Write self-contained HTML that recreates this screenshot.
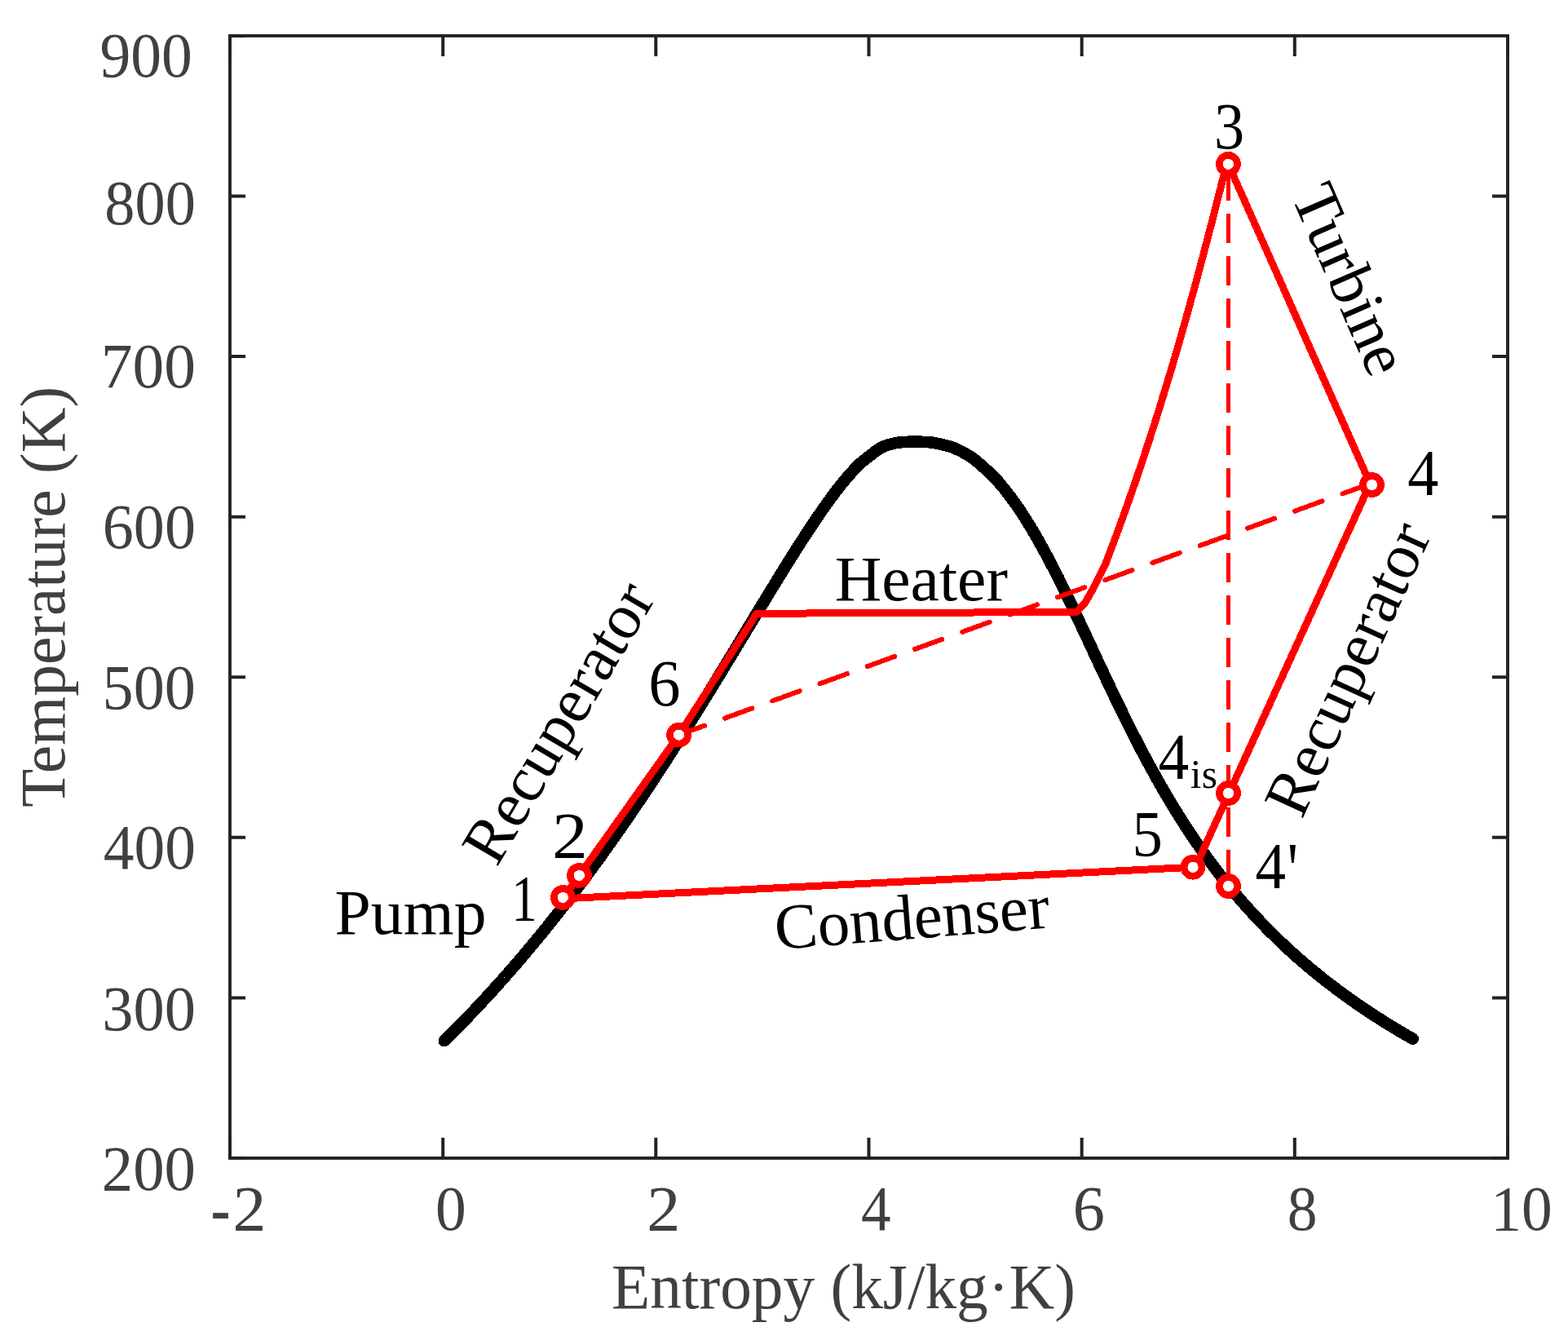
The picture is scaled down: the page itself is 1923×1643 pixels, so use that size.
<!DOCTYPE html>
<html><head><meta charset="utf-8"><title>T-s diagram</title>
<style>html,body{margin:0;padding:0;background:#fff;}svg{display:block;}</style></head>
<body>
<svg width="1923" height="1643" viewBox="0 0 1923 1643">
<rect width="1923" height="1643" fill="#fff"/>
<g shape-rendering="crispEdges">
<polyline points="544.8,1276.2 545.5,1275.5 546.5,1274.5 547.7,1273.3 548.8,1272.2 549.8,1271.3 550.8,1270.3 551.8,1269.3 552.8,1268.3 553.7,1267.3 554.7,1266.4 555.7,1265.4 556.7,1264.4 557.7,1263.4 558.7,1262.4 559.6,1261.4 560.6,1260.5 561.6,1259.5 562.5,1258.5 563.5,1257.5 564.5,1256.5 565.4,1255.5 566.4,1254.6 567.4,1253.6 568.3,1252.6 569.3,1251.6 570.2,1250.6 571.2,1249.6 572.1,1248.7 573.1,1247.7 574.0,1246.7 575.0,1245.7 575.9,1244.7 576.9,1243.7 577.8,1242.8 578.7,1241.8 579.7,1240.8 580.6,1239.8 581.6,1238.8 582.5,1237.8 583.4,1236.9 584.3,1235.9 585.3,1234.9 586.2,1233.9 587.1,1232.9 588.0,1231.9 589.0,1231.0 589.9,1230.0 590.8,1229.0 591.7,1228.0 592.6,1227.0 593.5,1226.1 594.4,1225.1 595.4,1224.1 596.3,1223.1 597.2,1222.1 598.1,1221.1 599.0,1220.2 599.9,1219.2 600.8,1218.2 601.7,1217.2 602.6,1216.2 603.5,1215.2 604.4,1214.3 605.3,1213.3 606.2,1212.3 607.0,1211.3 607.9,1210.3 608.8,1209.3 609.7,1208.4 610.6,1207.4 611.5,1206.4 612.3,1205.4 613.2,1204.4 614.1,1203.4 615.0,1202.5 615.9,1201.5 616.7,1200.5 617.6,1199.5 618.5,1198.5 619.3,1197.5 620.2,1196.6 621.1,1195.6 621.9,1194.6 622.8,1193.6 623.7,1192.6 624.5,1191.6 625.4,1190.7 626.3,1189.7 627.1,1188.7 628.0,1187.7 628.8,1186.7 629.7,1185.8 630.5,1184.8 631.4,1183.8 632.2,1182.8 633.1,1181.8 633.9,1180.8 634.8,1179.9 635.6,1178.9 636.5,1177.9 637.3,1176.9 638.1,1175.9 639.0,1174.9 639.8,1174.0 640.7,1173.0 641.5,1172.0 642.3,1171.0 643.2,1170.0 644.0,1169.0 644.8,1168.1 645.6,1167.1 646.5,1166.1 647.3,1165.1 648.1,1164.1 649.0,1163.1 649.8,1162.2 650.6,1161.2 651.4,1160.2 652.2,1159.2 653.1,1158.2 653.9,1157.2 654.7,1156.3 655.5,1155.3 656.3,1154.3 657.1,1153.3 658.0,1152.3 658.8,1151.3 659.6,1150.4 660.4,1149.4 661.2,1148.4 662.0,1147.4 662.8,1146.4 663.6,1145.4 664.4,1144.5 665.2,1143.5 666.0,1142.5 666.8,1141.5 667.6,1140.5 668.4,1139.6 669.2,1138.6 670.0,1137.6 670.8,1136.6 671.6,1135.6 672.4,1134.6 673.1,1133.7 673.9,1132.7 674.7,1131.7 675.5,1130.7 676.3,1129.7 677.1,1128.7 677.9,1127.8 678.6,1126.8 679.4,1125.8 680.2,1124.8 681.0,1123.8 681.8,1122.8 682.5,1121.9 683.3,1120.9 684.1,1119.9 684.9,1118.9 685.6,1117.9 686.4,1116.9 687.2,1116.0 688.0,1115.0 688.7,1114.0 689.5,1113.0 690.3,1112.0 691.0,1111.0 691.8,1110.1 692.5,1109.1 693.3,1108.1 694.1,1107.1 694.8,1106.1 695.6,1105.1 696.4,1104.2 697.1,1103.2 697.9,1102.2 698.6,1101.2 699.4,1100.2 700.1,1099.3 700.9,1098.3 701.6,1097.3 702.4,1096.3 703.1,1095.3 703.9,1094.3 704.6,1093.4 705.4,1092.4 706.1,1091.4 706.9,1090.4 707.6,1089.4 708.4,1088.4 709.1,1087.5 709.9,1086.5 710.6,1085.5 711.3,1084.5 712.1,1083.5 712.8,1082.5 713.5,1081.6 714.3,1080.6 715.0,1079.6 715.8,1078.6 716.5,1077.6 717.2,1076.6 717.9,1075.7 718.7,1074.7 719.4,1073.7 720.1,1072.7 720.9,1071.7 721.6,1070.7 722.3,1069.8 723.0,1068.8 723.8,1067.8 724.5,1066.8 725.2,1065.8 725.9,1064.8 726.7,1063.9 727.4,1062.9 728.1,1061.9 728.8,1060.9 729.5,1059.9 730.3,1059.0 731.0,1058.0 731.7,1057.0 732.4,1056.0 733.1,1055.0 733.8,1054.0 734.6,1053.1 735.3,1052.1 736.0,1051.1 736.7,1050.1 737.4,1049.1 738.1,1048.1 738.8,1047.2 739.5,1046.2 740.2,1045.2 740.9,1044.2 741.6,1043.2 742.3,1042.2 743.0,1041.3 743.7,1040.3 744.4,1039.3 745.1,1038.3 745.8,1037.3 746.5,1036.3 747.2,1035.4 747.9,1034.4 748.6,1033.4 749.3,1032.4 750.0,1031.4 750.7,1030.4 751.4,1029.5 752.1,1028.5 752.8,1027.5 753.5,1026.5 754.2,1025.5 754.9,1024.5 755.6,1023.6 756.3,1022.6 756.9,1021.6 757.6,1020.6 758.3,1019.6 759.0,1018.7 759.7,1017.7 760.4,1016.7 761.1,1015.7 761.7,1014.7 762.4,1013.7 763.1,1012.8 763.8,1011.8 764.5,1010.8 765.2,1009.8 765.8,1008.8 766.5,1007.8 767.2,1006.9 767.9,1005.9 768.5,1004.9 769.2,1003.9 769.9,1002.9 770.6,1001.9 771.2,1001.0 771.9,1000.0 772.6,999.0 773.3,998.0 773.9,997.0 774.6,996.0 775.3,995.1 775.9,994.1 776.6,993.1 777.3,992.1 777.9,991.1 778.6,990.1 779.3,989.2 779.9,988.2 780.6,987.2 781.3,986.2 781.9,985.2 782.6,984.2 783.3,983.3 783.9,982.3 784.6,981.3 785.3,980.3 785.9,979.3 786.6,978.4 787.2,977.4 787.9,976.4 788.6,975.4 789.2,974.4 789.9,973.4 790.5,972.5 791.2,971.5 791.8,970.5 792.5,969.5 793.1,968.5 793.8,967.5 794.5,966.6 795.1,965.6 795.8,964.6 796.4,963.6 797.1,962.6 797.7,961.6 798.4,960.7 799.0,959.7 799.7,958.7 800.3,957.7 801.0,956.7 801.6,955.7 802.2,954.8 802.9,953.8 803.5,952.8 804.2,951.8 804.8,950.8 805.5,949.8 806.1,948.9 806.8,947.9 807.4,946.9 808.0,945.9 808.7,944.9 809.3,943.9 810.0,943.0 810.6,942.0 811.2,941.0 811.9,940.0 812.5,939.0 813.2,938.1 813.8,937.1 814.4,936.1 815.1,935.1 815.7,934.1 816.3,933.1 817.0,932.2 817.6,931.2 818.2,930.2 818.9,929.2 819.5,928.2 820.1,927.2 820.8,926.3 821.4,925.3 822.0,924.3 822.7,923.3 823.3,922.3 823.9,921.3 824.5,920.4 825.2,919.4 825.8,918.4 826.4,917.4 827.1,916.4 827.7,915.4 828.3,914.5 828.9,913.5 829.6,912.5 830.2,911.5 830.8,910.5 831.5,909.5 832.1,908.6 832.7,907.6 833.3,906.6 833.9,905.6 834.6,904.6 835.2,903.6 835.8,902.7 836.4,901.7 837.1,900.7 837.7,899.7 838.3,898.7 838.9,897.8 839.5,896.8 840.2,895.8 840.8,894.8 841.4,893.8 842.0,892.8 842.6,891.9 843.2,890.9 843.9,889.9 844.5,888.9 845.1,887.9 845.7,886.9 846.3,886.0 846.9,885.0 847.6,884.0 848.2,883.0 848.8,882.0 849.4,881.0 850.0,880.1 850.6,879.1 851.2,878.1 851.9,877.1 852.5,876.1 853.1,875.1 853.7,874.2 854.3,873.2 854.9,872.2 855.5,871.2 856.1,870.2 856.7,869.2 857.4,868.3 858.0,867.3 858.6,866.3 859.2,865.3 859.8,864.3 860.4,863.3 861.0,862.4 861.6,861.4 862.2,860.4 862.8,859.4 863.4,858.4 864.1,857.5 864.7,856.5 865.3,855.5 865.9,854.5 866.5,853.5 867.1,852.5 867.7,851.6 868.3,850.6 868.9,849.6 869.5,848.6 870.1,847.6 870.7,846.6 871.3,845.7 871.9,844.7 872.5,843.7 873.1,842.7 873.7,841.7 874.3,840.7 874.9,839.8 875.5,838.8 876.1,837.8 876.7,836.8 877.3,835.8 877.9,834.8 878.5,833.9 879.1,832.9 879.7,831.9 880.3,830.9 880.9,829.9 881.5,828.9 882.1,828.0 882.7,827.0 883.3,826.0 883.9,825.0 884.5,824.0 885.1,823.0 885.7,822.1 886.3,821.1 886.9,820.1 887.5,819.1 888.1,818.1 888.7,817.2 889.3,816.2 889.9,815.2 890.5,814.2 891.1,813.2 891.7,812.2 892.3,811.3 892.9,810.3 893.5,809.3 894.1,808.3 894.7,807.3 895.3,806.3 895.9,805.4 896.5,804.4 897.1,803.4 897.7,802.4 898.3,801.4 898.9,800.4 899.5,799.5 900.1,798.5 900.7,797.5 901.3,796.5 901.9,795.5 902.5,794.5 903.1,793.6 903.6,792.6 904.2,791.6 904.8,790.6 905.4,789.6 906.0,788.6 906.6,787.7 907.2,786.7 907.8,785.7 908.4,784.7 909.0,783.7 909.6,782.7 910.2,781.8 910.8,780.8 911.4,779.8 912.0,778.8 912.6,777.8 913.2,776.9 913.8,775.9 914.3,774.9 914.9,773.9 915.5,772.9 916.1,771.9 916.7,771.0 917.3,770.0 917.9,769.0 918.5,768.0 919.1,767.0 919.7,766.0 920.3,765.1 920.9,764.1 921.5,763.1 922.1,762.1 922.7,761.1 923.3,760.1 923.9,759.2 924.5,758.2 925.1,757.2 925.6,756.2 926.2,755.2 926.8,754.2 927.4,753.3 928.0,752.3 928.6,751.3 929.2,750.3 929.8,749.3 930.4,748.3 931.0,747.4 931.6,746.4 932.2,745.4 932.8,744.4 933.4,743.4 934.0,742.4 934.6,741.5 935.2,740.5 935.8,739.5 936.4,738.5 937.0,737.5 937.6,736.6 938.2,735.6 938.8,734.6 939.4,733.6 940.0,732.6 940.6,731.6 941.2,730.7 941.8,729.7 942.4,728.7 943.0,727.7 943.6,726.7 944.2,725.7 944.8,724.8 945.4,723.8 946.0,722.8 946.6,721.8 947.2,720.8 947.8,719.8 948.4,718.9 949.0,717.9 949.6,716.9 950.2,715.9 950.8,714.9 951.4,713.9 952.0,713.0 952.6,712.0 953.2,711.0 953.8,710.0 954.4,709.0 955.0,708.0 955.6,707.1 956.2,706.1 956.8,705.1 957.4,704.1 958.1,703.1 958.7,702.1 959.3,701.2 959.9,700.2 960.5,699.2 961.1,698.2 961.7,697.2 962.3,696.3 962.9,695.3 963.5,694.3 964.2,693.3 964.8,692.3 965.4,691.3 966.0,690.4 966.6,689.4 967.2,688.4 967.8,687.4 968.5,686.4 969.1,685.4 969.7,684.5 970.3,683.5 970.9,682.5 971.6,681.5 972.2,680.5 972.8,679.5 973.4,678.6 974.0,677.6 974.7,676.6 975.3,675.6 975.9,674.6 976.5,673.6 977.2,672.7 977.8,671.7 978.4,670.7 979.0,669.7 979.7,668.7 980.3,667.7 980.9,666.8 981.6,665.8 982.2,664.8 982.8,663.8 983.5,662.8 984.1,661.8 984.7,660.9 985.4,659.9 986.0,658.9 986.6,657.9 987.3,656.9 987.9,656.0 988.6,655.0 989.2,654.0 989.8,653.0 990.5,652.0 991.1,651.0 991.8,650.1 992.4,649.1 993.1,648.1 993.7,647.1 994.4,646.1 995.0,645.1 995.7,644.2 996.3,643.2 997.0,642.2 997.7,641.2 998.3,640.2 999.0,639.2 999.6,638.3 1000.3,637.3 1001.0,636.3 1001.6,635.3 1002.3,634.3 1003.0,633.3 1003.7,632.4 1004.3,631.4 1005.0,630.4 1005.7,629.4 1006.4,628.4 1007.1,627.4 1007.7,626.5 1008.4,625.5 1009.1,624.5 1009.8,623.5 1010.5,622.5 1011.2,621.5 1011.9,620.6 1012.6,619.6 1013.3,618.6 1014.0,617.6 1014.7,616.6 1015.4,615.7 1016.1,614.7 1016.8,613.7 1017.5,612.7 1018.2,611.7 1019.0,610.7 1019.7,609.8 1020.4,608.8 1021.2,607.8 1021.9,606.8 1022.6,605.8 1023.4,604.8 1024.1,603.9 1024.8,602.9 1025.6,601.9 1026.3,600.9 1027.1,599.9 1027.9,598.9 1028.6,598.0 1029.4,597.0 1030.2,596.0 1030.9,595.0 1031.7,594.0 1032.5,593.0 1033.3,592.1 1034.1,591.1 1034.9,590.1 1035.8,589.1 1036.6,588.1 1037.4,587.1 1038.3,586.2 1039.1,585.2 1039.9,584.2 1040.8,583.2 1041.7,582.2 1042.5,581.2 1043.4,580.3 1044.3,579.3 1045.2,578.3 1046.1,577.3 1047.0,576.3 1047.9,575.4 1048.8,574.4 1049.8,573.4 1050.7,572.4 1051.2,571.8 1051.4,571.4 1052.2,570.5 1054.6,568.5 1059.5,564.5 1066.1,559.3 1073.1,553.9 1079.1,549.8 1083.7,547.4 1087.5,545.9 1091.1,544.9 1094.9,544.0 1098.6,543.2 1102.2,542.6 1106.1,542.2 1110.8,541.9 1116.9,541.7 1124.0,541.7 1131.1,541.8 1136.9,542.0 1140.9,542.3 1143.9,542.7 1146.5,543.2 1149.6,543.9 1153.3,544.6 1157.3,545.5 1161.4,546.5 1165.4,547.7 1169.4,549.1 1173.3,550.8 1177.3,552.6 1181.2,554.7 1185.0,556.8 1188.7,559.0 1192.6,561.6 1197.0,565.0 1202.6,569.7 1209.0,575.4 1215.1,581.0 1219.7,585.4 1222.4,588.1 1223.7,589.8 1224.5,590.9 1225.4,592.1 1226.4,593.2 1227.2,594.2 1227.9,595.1 1228.7,596.0 1229.5,597.0 1230.4,598.0 1231.2,598.9 1231.9,599.9 1232.7,600.9 1233.5,601.9 1234.3,602.9 1235.1,603.9 1235.8,604.8 1236.6,605.8 1237.3,606.8 1238.1,607.8 1238.8,608.8 1239.6,609.8 1240.3,610.7 1241.0,611.7 1241.8,612.7 1242.5,613.7 1243.2,614.7 1243.9,615.7 1244.6,616.6 1245.3,617.6 1246.0,618.6 1246.7,619.6 1247.3,620.6 1248.0,621.5 1248.7,622.5 1249.4,623.5 1250.0,624.5 1250.7,625.5 1251.4,626.5 1252.0,627.4 1252.7,628.4 1253.3,629.4 1254.0,630.4 1254.6,631.4 1255.2,632.4 1255.9,633.3 1256.5,634.3 1257.1,635.3 1257.8,636.3 1258.4,637.3 1259.0,638.3 1259.6,639.2 1260.2,640.2 1260.8,641.2 1261.4,642.2 1262.0,643.2 1262.6,644.2 1263.2,645.1 1263.8,646.1 1264.4,647.1 1265.0,648.1 1265.6,649.1 1266.2,650.1 1266.8,651.0 1267.4,652.0 1267.9,653.0 1268.5,654.0 1269.1,655.0 1269.7,656.0 1270.2,656.9 1270.8,657.9 1271.4,658.9 1271.9,659.9 1272.5,660.9 1273.0,661.8 1273.6,662.8 1274.2,663.8 1274.7,664.8 1275.3,665.8 1275.8,666.8 1276.4,667.7 1276.9,668.7 1277.5,669.7 1278.0,670.7 1278.5,671.7 1279.1,672.7 1279.6,673.6 1280.1,674.6 1280.7,675.6 1281.2,676.6 1281.7,677.6 1282.3,678.6 1282.8,679.5 1283.3,680.5 1283.8,681.5 1284.4,682.5 1284.9,683.5 1285.4,684.5 1285.9,685.4 1286.5,686.4 1287.0,687.4 1287.5,688.4 1288.0,689.4 1288.5,690.4 1289.0,691.3 1289.5,692.3 1290.0,693.3 1290.6,694.3 1291.1,695.3 1291.6,696.3 1292.1,697.2 1292.6,698.2 1293.1,699.2 1293.6,700.2 1294.1,701.2 1294.6,702.1 1295.1,703.1 1295.6,704.1 1296.1,705.1 1296.6,706.1 1297.1,707.1 1297.6,708.0 1298.1,709.0 1298.5,710.0 1299.0,711.0 1299.5,712.0 1300.0,713.0 1300.5,713.9 1301.0,714.9 1301.5,715.9 1302.0,716.9 1302.4,717.9 1302.9,718.9 1303.4,719.8 1303.9,720.8 1304.4,721.8 1304.9,722.8 1305.3,723.8 1305.8,724.8 1306.3,725.7 1306.8,726.7 1307.3,727.7 1307.7,728.7 1308.2,729.7 1308.7,730.7 1309.2,731.6 1309.6,732.6 1310.1,733.6 1310.6,734.6 1311.1,735.6 1311.5,736.6 1312.0,737.5 1312.5,738.5 1313.0,739.5 1313.4,740.5 1313.9,741.5 1314.4,742.4 1314.8,743.4 1315.3,744.4 1315.8,745.4 1316.2,746.4 1316.7,747.4 1317.2,748.3 1317.6,749.3 1318.1,750.3 1318.6,751.3 1319.0,752.3 1319.5,753.3 1320.0,754.2 1320.4,755.2 1320.9,756.2 1321.4,757.2 1321.8,758.2 1322.3,759.2 1322.8,760.1 1323.2,761.1 1323.7,762.1 1324.1,763.1 1324.6,764.1 1325.1,765.1 1325.5,766.0 1326.0,767.0 1326.5,768.0 1326.9,769.0 1327.4,770.0 1327.8,771.0 1328.3,771.9 1328.8,772.9 1329.2,773.9 1329.7,774.9 1330.1,775.9 1330.6,776.9 1331.1,777.8 1331.5,778.8 1332.0,779.8 1332.4,780.8 1332.9,781.8 1333.4,782.7 1333.8,783.7 1334.3,784.7 1334.7,785.7 1335.2,786.7 1335.7,787.7 1336.1,788.6 1336.6,789.6 1337.0,790.6 1337.5,791.6 1337.9,792.6 1338.4,793.6 1338.9,794.5 1339.3,795.5 1339.8,796.5 1340.2,797.5 1340.7,798.5 1341.1,799.5 1341.6,800.4 1342.1,801.4 1342.5,802.4 1343.0,803.4 1343.4,804.4 1343.9,805.4 1344.4,806.3 1344.8,807.3 1345.3,808.3 1345.7,809.3 1346.2,810.3 1346.7,811.3 1347.1,812.2 1347.6,813.2 1348.0,814.2 1348.5,815.2 1349.0,816.2 1349.4,817.2 1349.9,818.1 1350.3,819.1 1350.8,820.1 1351.3,821.1 1351.7,822.1 1352.2,823.0 1352.6,824.0 1353.1,825.0 1353.6,826.0 1354.0,827.0 1354.5,828.0 1355.0,828.9 1355.4,829.9 1355.9,830.9 1356.4,831.9 1356.8,832.9 1357.3,833.9 1357.7,834.8 1358.2,835.8 1358.7,836.8 1359.1,837.8 1359.6,838.8 1360.1,839.8 1360.5,840.7 1361.0,841.7 1361.5,842.7 1361.9,843.7 1362.4,844.7 1362.9,845.7 1363.4,846.6 1363.8,847.6 1364.3,848.6 1364.8,849.6 1365.2,850.6 1365.7,851.6 1366.2,852.5 1366.6,853.5 1367.1,854.5 1367.6,855.5 1368.1,856.5 1368.5,857.5 1369.0,858.4 1369.5,859.4 1370.0,860.4 1370.4,861.4 1370.9,862.4 1371.4,863.3 1371.9,864.3 1372.3,865.3 1372.8,866.3 1373.3,867.3 1373.8,868.3 1374.3,869.2 1374.7,870.2 1375.2,871.2 1375.7,872.2 1376.2,873.2 1376.7,874.2 1377.1,875.1 1377.6,876.1 1378.1,877.1 1378.6,878.1 1379.1,879.1 1379.6,880.1 1380.1,881.0 1380.5,882.0 1381.0,883.0 1381.5,884.0 1382.0,885.0 1382.5,886.0 1383.0,886.9 1383.5,887.9 1384.0,888.9 1384.5,889.9 1385.0,890.9 1385.4,891.9 1385.9,892.8 1386.4,893.8 1386.9,894.8 1387.4,895.8 1387.9,896.8 1388.4,897.8 1388.9,898.7 1389.4,899.7 1389.9,900.7 1390.4,901.7 1390.9,902.7 1391.4,903.6 1391.9,904.6 1392.4,905.6 1392.9,906.6 1393.4,907.6 1393.9,908.6 1394.5,909.5 1395.0,910.5 1395.5,911.5 1396.0,912.5 1396.5,913.5 1397.0,914.5 1397.5,915.4 1398.0,916.4 1398.5,917.4 1399.0,918.4 1399.6,919.4 1400.1,920.4 1400.6,921.3 1401.1,922.3 1401.6,923.3 1402.2,924.3 1402.7,925.3 1403.2,926.3 1403.7,927.2 1404.3,928.2 1404.8,929.2 1405.3,930.2 1405.8,931.2 1406.4,932.2 1406.9,933.1 1407.4,934.1 1407.9,935.1 1408.5,936.1 1409.0,937.1 1409.5,938.1 1410.1,939.0 1410.6,940.0 1411.2,941.0 1411.7,942.0 1412.2,943.0 1412.8,943.9 1413.3,944.9 1413.9,945.9 1414.4,946.9 1414.9,947.9 1415.5,948.9 1416.0,949.8 1416.6,950.8 1417.1,951.8 1417.7,952.8 1418.2,953.8 1418.8,954.8 1419.3,955.7 1419.9,956.7 1420.4,957.7 1421.0,958.7 1421.6,959.7 1422.1,960.7 1422.7,961.6 1423.2,962.6 1423.8,963.6 1424.4,964.6 1424.9,965.6 1425.5,966.6 1426.1,967.5 1426.6,968.5 1427.2,969.5 1427.8,970.5 1428.4,971.5 1428.9,972.5 1429.5,973.4 1430.1,974.4 1430.7,975.4 1431.2,976.4 1431.8,977.4 1432.4,978.4 1433.0,979.3 1433.6,980.3 1434.2,981.3 1434.8,982.3 1435.3,983.3 1435.9,984.2 1436.5,985.2 1437.1,986.2 1437.7,987.2 1438.3,988.2 1438.9,989.2 1439.5,990.1 1440.1,991.1 1440.7,992.1 1441.3,993.1 1441.9,994.1 1442.5,995.1 1443.1,996.0 1443.7,997.0 1444.4,998.0 1445.0,999.0 1445.6,1000.0 1446.2,1001.0 1446.8,1001.9 1447.4,1002.9 1448.1,1003.9 1448.7,1004.9 1449.3,1005.9 1449.9,1006.9 1450.6,1007.8 1451.2,1008.8 1451.8,1009.8 1452.5,1010.8 1453.1,1011.8 1453.7,1012.8 1454.4,1013.7 1455.0,1014.7 1455.7,1015.7 1456.3,1016.7 1456.9,1017.7 1457.6,1018.7 1458.2,1019.6 1458.9,1020.6 1459.5,1021.6 1460.2,1022.6 1460.8,1023.6 1461.5,1024.5 1462.2,1025.5 1462.8,1026.5 1463.5,1027.5 1464.2,1028.5 1464.8,1029.5 1465.5,1030.4 1466.2,1031.4 1466.8,1032.4 1467.5,1033.4 1468.2,1034.4 1468.9,1035.4 1469.6,1036.3 1470.2,1037.3 1470.9,1038.3 1471.6,1039.3 1472.3,1040.3 1473.0,1041.3 1473.7,1042.2 1474.4,1043.2 1475.1,1044.2 1475.8,1045.2 1476.5,1046.2 1477.2,1047.2 1477.9,1048.1 1478.6,1049.1 1479.3,1050.1 1480.0,1051.1 1480.7,1052.1 1481.4,1053.1 1482.2,1054.0 1482.9,1055.0 1483.6,1056.0 1484.3,1057.0 1485.1,1058.0 1485.8,1059.0 1486.5,1059.9 1487.3,1060.9 1488.0,1061.9 1488.7,1062.9 1489.5,1063.9 1490.2,1064.8 1491.0,1065.8 1491.7,1066.8 1492.5,1067.8 1493.2,1068.8 1494.0,1069.8 1494.7,1070.7 1495.5,1071.7 1496.3,1072.7 1497.0,1073.7 1497.8,1074.7 1498.6,1075.7 1499.3,1076.6 1500.1,1077.6 1500.9,1078.6 1501.7,1079.6 1502.5,1080.6 1503.2,1081.6 1504.0,1082.5 1504.8,1083.5 1505.6,1084.5 1506.4,1085.5 1507.2,1086.5 1508.0,1087.5 1508.8,1088.4 1509.6,1089.4 1510.4,1090.4 1511.3,1091.4 1512.1,1092.4 1512.9,1093.4 1513.7,1094.3 1514.5,1095.3 1515.4,1096.3 1516.2,1097.3 1517.0,1098.3 1517.9,1099.3 1518.7,1100.2 1519.5,1101.2 1520.4,1102.2 1521.2,1103.2 1522.1,1104.2 1523.0,1105.1 1523.8,1106.1 1524.7,1107.1 1525.5,1108.1 1526.4,1109.1 1527.3,1110.1 1528.1,1111.0 1529.0,1112.0 1529.9,1113.0 1530.8,1114.0 1531.7,1115.0 1532.6,1116.0 1533.4,1116.9 1534.3,1117.9 1535.2,1118.9 1536.1,1119.9 1537.0,1120.9 1537.9,1121.9 1538.9,1122.8 1539.8,1123.8 1540.7,1124.8 1541.6,1125.8 1542.5,1126.8 1543.5,1127.8 1544.4,1128.7 1545.3,1129.7 1546.3,1130.7 1547.2,1131.7 1548.1,1132.7 1549.1,1133.7 1550.0,1134.6 1551.0,1135.6 1552.0,1136.6 1552.9,1137.6 1553.9,1138.6 1554.9,1139.6 1555.8,1140.5 1556.8,1141.5 1557.8,1142.5 1558.8,1143.5 1559.8,1144.5 1560.8,1145.4 1561.8,1146.4 1562.8,1147.4 1563.8,1148.4 1564.8,1149.4 1565.8,1150.4 1566.8,1151.3 1567.8,1152.3 1568.8,1153.3 1569.9,1154.3 1570.9,1155.3 1571.9,1156.3 1573.0,1157.2 1574.0,1158.2 1575.1,1159.2 1576.1,1160.2 1577.2,1161.2 1578.2,1162.2 1579.3,1163.1 1580.4,1164.1 1581.4,1165.1 1582.5,1166.1 1583.6,1167.1 1584.7,1168.1 1585.8,1169.0 1586.9,1170.0 1588.0,1171.0 1589.1,1172.0 1590.2,1173.0 1591.3,1174.0 1592.4,1174.9 1593.5,1175.9 1594.6,1176.9 1595.8,1177.9 1596.9,1178.9 1598.1,1179.9 1599.2,1180.8 1600.3,1181.8 1601.5,1182.8 1602.7,1183.8 1603.8,1184.8 1605.0,1185.8 1606.2,1186.7 1607.3,1187.7 1608.5,1188.7 1609.7,1189.7 1610.9,1190.7 1612.1,1191.6 1613.3,1192.6 1614.5,1193.6 1615.7,1194.6 1616.9,1195.6 1618.2,1196.6 1619.4,1197.5 1620.6,1198.5 1621.9,1199.5 1623.1,1200.5 1624.3,1201.5 1625.6,1202.5 1626.9,1203.4 1628.1,1204.4 1629.4,1205.4 1630.7,1206.4 1631.9,1207.4 1633.2,1208.4 1634.5,1209.3 1635.8,1210.3 1637.1,1211.3 1638.4,1212.3 1639.7,1213.3 1641.0,1214.3 1642.4,1215.2 1643.7,1216.2 1645.0,1217.2 1646.4,1218.2 1647.7,1219.2 1649.1,1220.2 1650.4,1221.1 1651.8,1222.1 1653.2,1223.1 1654.5,1224.1 1655.9,1225.1 1657.3,1226.1 1658.7,1227.0 1660.1,1228.0 1661.5,1229.0 1662.9,1230.0 1664.3,1231.0 1665.8,1231.9 1667.2,1232.9 1668.6,1233.9 1670.1,1234.9 1671.5,1235.9 1673.0,1236.9 1674.4,1237.8 1675.9,1238.8 1677.4,1239.8 1678.9,1240.8 1680.4,1241.8 1681.9,1242.8 1683.4,1243.7 1684.9,1244.7 1686.4,1245.7 1687.9,1246.7 1689.4,1247.7 1691.0,1248.7 1692.5,1249.6 1694.1,1250.6 1695.6,1251.6 1697.2,1252.6 1698.8,1253.6 1700.3,1254.6 1701.9,1255.5 1703.5,1256.5 1705.1,1257.5 1706.7,1258.5 1708.3,1259.5 1710.0,1260.5 1711.6,1261.4 1713.2,1262.4 1714.9,1263.4 1716.5,1264.4 1718.2,1265.4 1719.8,1266.4 1721.5,1267.3 1723.2,1268.3 1725.0,1269.4 1726.9,1270.4 1728.6,1271.4 1730.0,1272.2 1731.0,1272.8 1731.7,1273.2 1732.2,1273.5 1732.6,1273.7" fill="none" stroke="#000" stroke-width="14.6" stroke-linejoin="round" stroke-linecap="round"/>
<polyline points="1466.0,1063.1 690.4,1101.9 710.4,1073.4 832.6,901.1 928.0,752.3 1320.4,750.4 1330.9,738.7 1336.7,728.9 1341.9,719.2 1346.7,709.5 1351.6,699.7 1356.3,690.0 1359.4,681.8 1362.5,673.6 1365.6,665.4 1368.7,657.2 1371.7,649.0 1374.7,640.8 1377.7,632.6 1380.6,624.4 1383.5,616.2 1386.4,608.0 1389.3,599.8 1392.1,591.6 1394.9,583.4 1397.7,575.2 1400.5,566.9 1403.2,558.7 1405.9,550.5 1408.6,542.3 1411.2,534.1 1413.9,525.9 1416.5,517.7 1419.1,509.5 1421.7,501.3 1424.2,493.1 1426.7,484.9 1429.2,476.7 1431.7,468.5 1434.2,460.3 1436.7,452.1 1439.1,443.9 1441.5,435.7 1443.9,427.5 1446.3,419.3 1448.6,411.1 1451.0,402.9 1453.3,394.7 1455.6,386.5 1457.9,378.3 1460.1,370.1 1462.4,361.9 1464.7,353.7 1466.9,345.5 1469.1,337.3 1471.3,329.1 1473.5,320.8 1475.7,312.6 1477.8,304.4 1480.0,296.2 1482.1,288.0 1484.3,279.8 1486.4,271.6 1488.5,263.4 1490.6,255.2 1492.7,247.0 1494.8,238.8 1496.9,230.6 1498.9,222.4 1501.0,214.2 1503.0,206.0 1506.4,201.3 1680.4,593.1 1466.0,1063.1" fill="none" stroke="#ff0000" stroke-width="9" stroke-linejoin="round" stroke-linecap="round"/>
<line x1="832.6" y1="901.1" x2="1680.4" y2="593.1" stroke="#ff0000" stroke-width="6" stroke-linecap="round" stroke-dasharray="35.5 26.5" stroke-dashoffset="2"/>
<line x1="1506.5" y1="201.3" x2="1506.5" y2="1086.5" stroke="#ff0000" stroke-width="5" stroke-dasharray="36 16" stroke-dashoffset="-8.3"/>
<circle cx="690.4" cy="1100.4" r="11" fill="#fff" stroke="#ff0000" stroke-width="8.8"/>
<circle cx="710.4" cy="1073.4" r="11" fill="#fff" stroke="#ff0000" stroke-width="8.8"/>
<circle cx="832.6" cy="901.1" r="11" fill="#fff" stroke="#ff0000" stroke-width="8.8"/>
<circle cx="1506.4" cy="201.3" r="11" fill="#fff" stroke="#ff0000" stroke-width="8.8"/>
<circle cx="1682.6" cy="594.5" r="11" fill="#fff" stroke="#ff0000" stroke-width="8.8"/>
<circle cx="1506.6" cy="972.5" r="11" fill="#fff" stroke="#ff0000" stroke-width="8.8"/>
<circle cx="1506.6" cy="1086.5" r="11" fill="#fff" stroke="#ff0000" stroke-width="8.8"/>
<circle cx="1463.0" cy="1063.2" r="11" fill="#fff" stroke="#ff0000" stroke-width="8.8"/>
</g>
<rect x="282" y="43.9" width="1567" height="1376.1" fill="none" stroke="#222222" stroke-width="3.9"/>
<path d="M282.0,43.9V69M282.0,1420V1395M543.2,43.9V69M543.2,1420V1395M804.3,43.9V69M804.3,1420V1395M1065.5,43.9V69M1065.5,1420V1395M1326.7,43.9V69M1326.7,1420V1395M1587.8,43.9V69M1587.8,1420V1395M1849.0,43.9V69M1849.0,1420V1395M282,1420.0H301M1849,1420.0H1830M282,1223.4H301M1849,1223.4H1830M282,1026.8H301M1849,1026.8H1830M282,830.2H301M1849,830.2H1830M282,633.7H301M1849,633.7H1830M282,437.1H301M1849,437.1H1830M282,240.5H301M1849,240.5H1830M282,43.9H301" stroke="#222222" stroke-width="4" fill="none"/>
<g font-family="Liberation Serif, serif">
<text transform="translate(124.90,94.20) scale(0.9694,1)" x="-2.51" y="0" font-size="78" fill="#404040">900</text>
<text transform="translate(131.10,275.20) scale(0.9536,1)" x="-2.97" y="0" font-size="78" fill="#404040">800</text>
<text transform="translate(128.80,475.20) scale(0.9937,1)" x="-5.14" y="0" font-size="78" fill="#404040">700</text>
<text transform="translate(129.10,672.10) scale(0.9749,1)" x="-3.35" y="0" font-size="78" fill="#404040">600</text>
<text transform="translate(130.00,869.20) scale(0.9772,1)" x="-4.53" y="0" font-size="78" fill="#404040">500</text>
<text transform="translate(128.10,1065.20) scale(0.9679,1)" x="-1.52" y="0" font-size="78" fill="#404040">400</text>
<text transform="translate(128.90,1263.20) scale(0.9801,1)" x="-3.73" y="0" font-size="78" fill="#404040">300</text>
<text transform="translate(128.10,1459.20) scale(0.9846,1)" x="-3.43" y="0" font-size="78" fill="#404040">200</text>
<text transform="translate(258.4,1511.8) scale(0.923,1.167)" x="0" y="0" font-size="78" fill="#404040">-</text>
<text transform="translate(289.00,1507.70) scale(1.0490,1)" x="-3.43" y="0" font-size="78" fill="#404040">2</text>
<text transform="translate(536.90,1508.00) scale(0.9680,1)" x="-2.97" y="0" font-size="78" fill="#404040">0</text>
<text transform="translate(796.90,1508.00) scale(1.0554,1)" x="-3.43" y="0" font-size="78" fill="#404040">2</text>
<text transform="translate(1057.50,1508.00) scale(0.9377,1)" x="-1.52" y="0" font-size="78" fill="#404040">4</text>
<text transform="translate(1319.00,1508.00) scale(1.0052,1)" x="-3.35" y="0" font-size="78" fill="#404040">6</text>
<text transform="translate(1581.50,1508.00) scale(0.9438,1)" x="-2.97" y="0" font-size="78" fill="#404040">8</text>
<text transform="translate(1835.00,1508.00) scale(0.9681,1)" x="-6.86" y="0" font-size="78" fill="#404040">10</text>
<text transform="translate(752.30,1603.50)" x="-2.23" y="0" font-size="77.3" fill="#404040">Entropy (kJ/kg·K)</text>
<text transform="translate(79.10,988.70) rotate(-90) scale(0.9918,1)" x="-1.41" y="0" font-size="78" fill="#404040">Temperature (K)</text>
<text transform="translate(1492.60,182.30) scale(0.9175,1)" x="-3.88" y="0" font-size="81" fill="#000">3</text>
<text transform="translate(1727.70,607.00) scale(0.9402,1)" x="-1.58" y="0" font-size="81" fill="#000">4</text>
<text transform="translate(1392.90,1050.20) scale(0.9225,1)" x="-4.71" y="0" font-size="81" fill="#000">5</text>
<text transform="translate(798.70,865.30) scale(0.9709,1)" x="-3.48" y="0" font-size="81" fill="#000">6</text>
<text transform="translate(680.90,1052.00) scale(1.0810,1)" x="-3.56" y="0" font-size="81" fill="#000">2</text>
<text transform="translate(632.90,1129.30) scale(0.7785,1)" x="-7.12" y="0" font-size="81" fill="#000">1</text>
<text transform="translate(412.80,1144.90) scale(1.0088,1)" x="-2.28" y="0" font-size="79" fill="#000">Pump</text>
<text transform="translate(1026.00,735.80) scale(1.0085,1)" x="-2.28" y="0" font-size="79" fill="#000">Heater</text>
<text transform="translate(1421.90,954.90) scale(0.9322,1)" x="-1.58" y="0" font-size="81" fill="#000">4</text>
<text transform="translate(1460.90,966.00) scale(0.9904,1)" x="-1.05" y="0" font-size="50" fill="#000">is</text>
<text transform="translate(1541.00,1088.80) scale(0.9269,1)" x="-1.58" y="0" font-size="81" fill="#000">4</text>
<text transform="translate(1578.8,1097.0) scale(0.934,1.18)" x="0" y="0" font-size="79" fill="#000">'</text>
<text transform="translate(951.93,1164.37) rotate(-4.57)" x="0" y="0" font-size="79.01" fill="#000">Condenser</text>
<text transform="translate(1583.09,240.09) rotate(66.52)" x="0" y="0" font-size="78.53" fill="#000">Turbine</text>
<text transform="translate(1596.75,1005.52) rotate(-65.51)" x="0" y="0" font-size="78.68" fill="#000">Recuperator</text>
<text transform="translate(609.21,1064.18) rotate(-59.41)" x="0" y="0" font-size="78.70" fill="#000">Recuperator</text>
</g>
</svg>
</body></html>
